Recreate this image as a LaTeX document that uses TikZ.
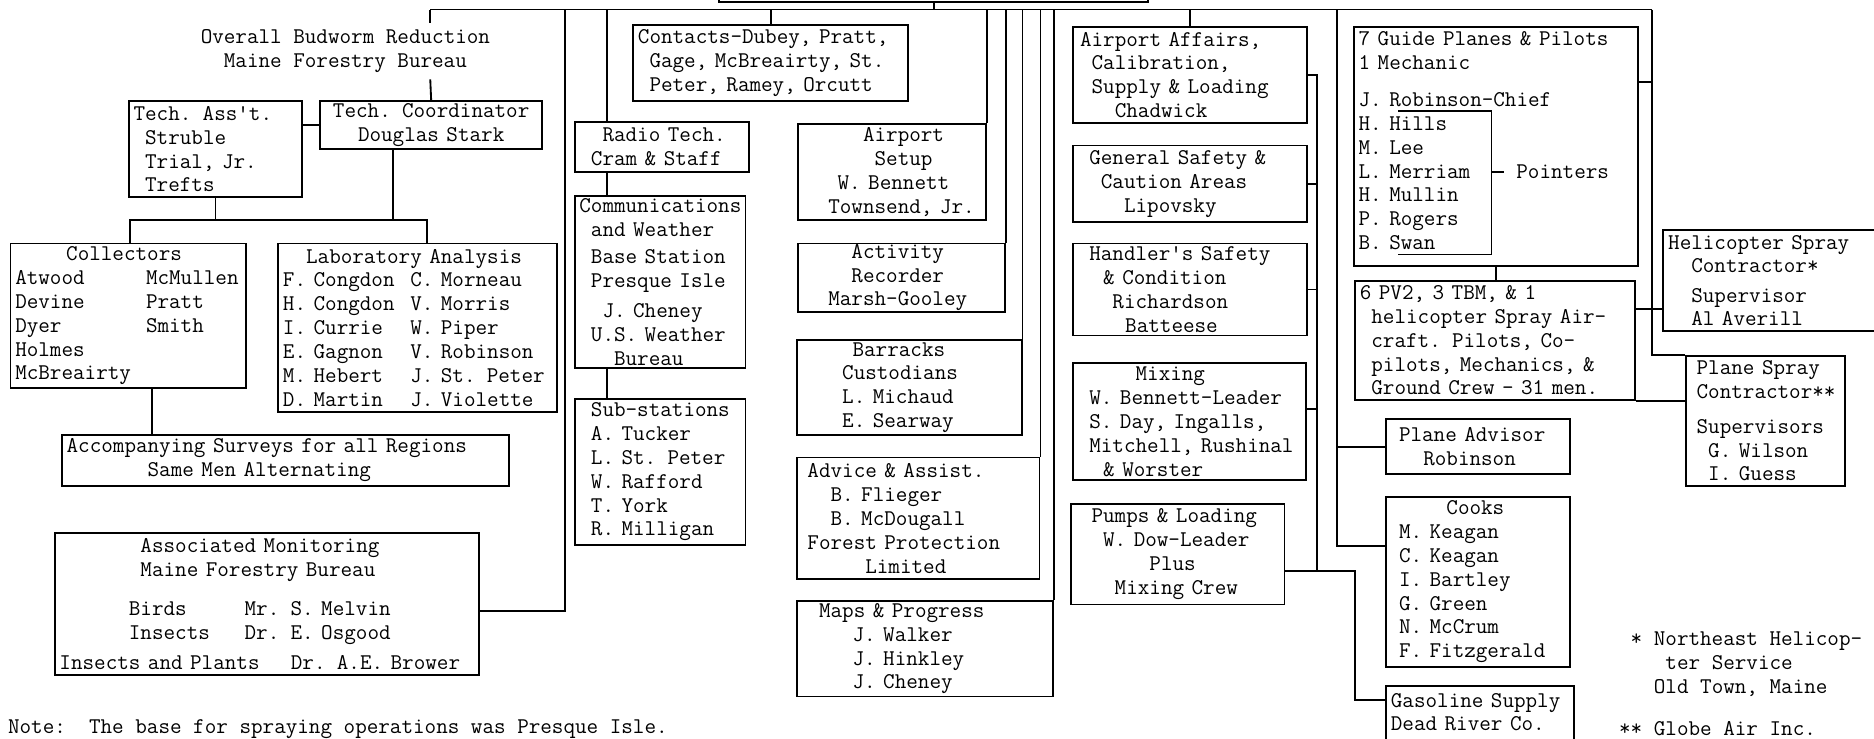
\documentclass[tikz,border=0pt]{standalone}
\usepackage{fontspec}
\usetikzlibrary{calc}
\newcommand\chind[1]{\hspace*{#1\fontcharwd\font`\M}}
\newcommand\chtab[2]{\makebox[#1\fontcharwd\font`\M][l]{#2}}

\begin{document}
\begin{tikzpicture}[x=0.025cm, y=-0.025cm,
    font=\ttfamily\fontsize{13.37}{14.2}\selectfont, line width=1.1pt,
    box/.style 2 args={draw, anchor=north west, align=left, inner xsep=0.1cm, inner ysep=0pt,
      minimum width=#1*0.025cm, minimum height=#2*0.025cm, text width=#1*0.025cm-0.2cm},
    plain/.style={inner sep=0pt, align=left}
  ]
  \useasboundingbox (0,0) rectangle (1568,618);
  \fill[white] (0,0) rectangle (1568,618);

  % Head and technical staff
  \node[box={359}{41}] (hdr) at (601,-40) {};
  \node[align=center] (overall) at (289,43) {Overall Budworm Reduction\\Maine Forestry Bureau};
  \node[box={145}{80}] (tass) at (107,84) {Tech. Ass\textquotesingle t.\\\chind{1}Struble\\\chind{1}Trial, Jr.\\\chind{1}Trefts};
  \node[box={186}{40}, align=center] (coord) at (267,84) {Tech. Coordinator\\Douglas Stark};
  \node[box={197}{121}] (coll) at (8,203) {\chind{4.4}Collectors\\\chtab{11.3}{Atwood}McMullen\\\chtab{11.3}{Devine}Pratt\\\chtab{11.3}{Dyer}Smith\\Holmes\\McBreairty};
  \node[box={233}{141}] (lab) at (232,203) {\chind{2}Laboratory Analysis\\\chtab{11}{F. Congdon}C. Morneau\\\chtab{11}{H. Congdon}V. Morris\\\chtab{11}{I. Currie}W. Piper\\\chtab{11}{E. Gagnon}V. Robinson\\\chtab{11}{M. Hebert}J. St. Peter\\\chtab{11}{D. Martin}J. Violette};
  \node[box={374}{43}] (acc) at (51,363) {Accompanying Surveys for all Regions\\\chind{7}Same Men Alternating};
  \node[box={355}{119}] (assoc) at (45,445) {\chind{7}Associated Monitoring\\\chind{7}Maine Forestry Bureau\\[0.33cm]\chind{6}\chtab{10}{Birds}Mr. S. Melvin\\\chind{6}\chtab{10}{Insects}Dr. E. Osgood\\[0.12cm]\chtab{20}{Insects and Plants}Dr. A.E. Brower};

  % Contacts, radio and camp services
  \node[box={230}{64}] (contacts) at (529,20) {Contacts-Dubey, Pratt,\\\chind{1}Gage, McBreairty, St.\\\chind{1}Peter, Ramey, Orcutt};
  \node[box={146}{42}] (radio) at (480,101) {\chind{2}Radio Tech.\\\chind{1}Cram \& Staff};
  \node[box={143}{144}] (comms) at (480,163) {Communications\\\chind{1}and Weather\\[0.08cm]\chind{1}Base Station\\\chind{1}Presque Isle\\[0.12cm]\chind{2}J. Cheney\\\chind{1}U.S. Weather\\\chind{3}Bureau};
  \node[box={143}{122}] (subs) at (480,333) {\chind{1}Sub-stations\\\chind{1}A. Tucker\\\chind{1}L. St. Peter\\\chind{1}W. Rafford\\\chind{1}T. York\\\chind{1}R. Milligan};
  \node[box={157}{80}] (setup) at (667,103) {\chind{5.2}Airport\\\chind{6.2}Setup\\\chind{3}W. Bennett\\\chind{2.2}Townsend, Jr.};
  \node[box={173}{57}] (activity) at (667,203) {\chind{4.2}Activity\\\chind{4.2}Recorder\\\chind{2.2}Marsh-Gooley};
  \node[box={188}{79}] (barracks) at (666,284) {\chind{4.4}Barracks\\\chind{3.5}Custodians\\\chind{3.5}L. Michaud\\\chind{3.5}E. Searway};
  \node[box={203}{102}] (advice) at (666,382) {\chind{0.5}Advice \& Assist.\\\chind{2.5}B. Flieger\\\chind{2.5}B. McDougall\\\chind{0.5}Forest Protection\\\chind{5.5}Limited};
  \node[box={214}{80}] (maps) at (666,502) {\chind{1.5}Maps \& Progress\\\chind{4.4}J. Walker\\\chind{4.4}J. Hinkley\\\chind{4.4}J. Cheney};

  % Airport work
  \node[box={196}{80}] (affairs) at (897,22) {\chind{0.2}Airport Affairs,\\\chind{1.2}Calibration,\\\chind{1.2}Supply \& Loading\\\chind{3.2}Chadwick};
  \node[box={196}{64}] (general) at (897,121) {\chind{1}General Safety \&\\\chind{2}Caution Areas\\\chind{4}Lipovsky};
  \node[box={196}{77}] (handler) at (897,203) {\chind{1}Handler\textquotesingle s Safety\\\chind{2.2}\& Condition\\\chind{3}Richardson\\\chind{4.1}Batteese};
  \node[box={195}{98}] (mixing) at (897,303) {\chind{5}Mixing\\\chind{1}W. Bennett-Leader\\\chind{1}S. Day, Ingalls,\\\chind{1}Mitchell, Rushinal\\\chind{2.2}\& Worster};
  \node[box={179}{84}] (pumps) at (895,421) {\chind{1.4}Pumps \& Loading\\\chind{2.4}W. Dow-Leader\\\chind{6.4}Plus\\\chind{3.4}Mixing Crew};

  % Planes and contractors
  \node[box={238}{200}] (guide) at (1132,22) {7 Guide Planes \& Pilots\\1 Mechanic\\[0.27cm]J. Robinson-Chief\\H. Hills\\M. Lee\\L. Merriam\\H. Mullin\\P. Rogers\\B. Swan\\[-7pt]\mbox{}};
  \node[plain, anchor=west] (ptr) at (1268,144) {Pointers};
  \node[box={234}{100}] (pv) at (1133,234) {6 PV2, 3 TBM, \& 1\\\chind{1}helicopter Spray Air-\\\chind{1}craft. Pilots, Co-\\\chind{1}pilots, Mechanics, \&\\\chind{1}Ground Crew - 31 men.};
  \node[box={177}{84}] (heli) at (1391,192) {Helicopter Spray\\\chind{2}Contractor*\\[0.11cm]\chind{2}Supervisor\\\chind{2}Al Averill};
  \node[box={133}{109}] (pspray) at (1410,297) {\chind{0.5}Plane Spray\\\chind{0.5}Contractor**\\[0.22cm]\chind{0.5}Supervisors\\\chind{1.5}G. Wilson\\\chind{1.5}I. Guess};
  \node[box={154}{46}] (padv) at (1159,350) {\chind{0.7}Plane Advisor\\\chind{2.8}Robinson};
  \node[box={154}{142}] (cooks) at (1159,415) {\chind{4.8}Cooks\\\chind{0.7}M. Keagan\\\chind{0.7}C. Keagan\\\chind{0.7}I. Bartley\\\chind{0.7}G. Green\\\chind{0.7}N. McCrum\\\chind{0.7}F. Fitzgerald};
  \node[box={157}{64}] (gas) at (1159,573) {Gasoline Supply\\Dead River Co.\\\mbox{}};

  % Notes
  \node[plain, anchor=north west] (notes) at (1354,528) {\chind{1}* Northeast Helicop-\\\chind{4}ter Service\\\chind{3}Old Town, Maine\\[0.38cm]** Globe Air Inc.};
  \node[plain, anchor=base west] (note) at (6,614) {Note:\chind{2}The base for spraying operations was Presque Isle.};

  % Main bus
  \coordinate (busL) at (360,8);
  \coordinate (busA) at (473,8);
  \coordinate (busP) at (1119,8);
  \coordinate (busR) at (1382,8);
  \draw (busL) -- (busR);
  \draw (hdr.south) -- (hdr.south |- busL);
  \draw (busL) -- (overall.north -| busL);
  \draw (overall.south -| busL) -- (coord.north);
  \draw (tass.east |- coord.west) -- (coord.west);

  % Tree under the technical staff
  \coordinate (tl) at (109,184);
  \coordinate (tr) at (357,184);
  \coordinate (tc) at ([xshift=-0.8cm]coord.south);
  \coordinate (ca) at ([xshift=0.5cm]coll.south);
  \draw (coll.north -| tl) -- (tl) -- (tr) -- (tr |- lab.north);
  \draw (tass.south) -- (tass.south |- tl);
  \draw (tc) -- (tc |- tl);
  \draw (ca) -- (ca |- acc.north);

  % Left drops
  \coordinate (am) at ([yshift=-0.14cm]assoc.east);
  \draw (am) -| (busA);
  \coordinate (rtop) at ([xshift=0.7cm]radio.north west);
  \draw (rtop) -- (rtop |- busL);
  \draw (rtop |- radio.south) -- (rtop |- comms.north);
  \draw (rtop |- comms.south) -- (rtop |- subs.north);
  \draw (contacts.north) -- (contacts.north |- busL);
  \foreach \n in {setup,activity,barracks,advice,maps}
    \draw (\n.north east) -- (\n.north east |- busL);

  % Airport work chain
  \draw (affairs.north) -- (affairs.north |- busL);
  \coordinate (rc) at (1102,477);
  \draw (affairs.east) -| (rc);
  \foreach \n in {general,handler}
    \draw (\n.east) -- (\n.east -| rc);
  \coordinate (mx) at ([yshift=0.27cm]mixing.east);
  \draw (mx) -- (mx -| rc);
  \coordinate (pmp) at ([yshift=-0.35cm]pumps.east);
  \coordinate (gj) at (1134,586);
  \draw (pmp) -| (gj) -- (gj -| gas.west);

  % Advisor and cooks
  \coordinate (ck) at ([yshift=0.75cm]cooks.west);
  \draw (busP) |- (ck);
  \draw (padv.west) -- (padv.west -| busP);

  % Planes and contractors
  \coordinate (gp) at ([yshift=1.35cm]guide.east);
  \draw (gp) -| (busR);
  \draw (busR) |- (pspray.north west);
  \draw (guide.south) -- (guide.south |- pv.north);
  \coordinate (hj) at ([yshift=0.65cm]pv.east);
  \draw (hj) -- (hj -| heli.west);
  \draw (pv.south east) -- (pv.south east -| pspray.west);

  % Pointers bracket
  \coordinate (brt) at (1170,93);
  \coordinate (brb) at (1170,213);
  \coordinate (brk) at (1248,144);
  \draw (brt) -| (brb -| brk) -- (brb);
  \draw (brk) -- ([xshift=-0.25cm]ptr.west);
\end{tikzpicture}
\end{document}
